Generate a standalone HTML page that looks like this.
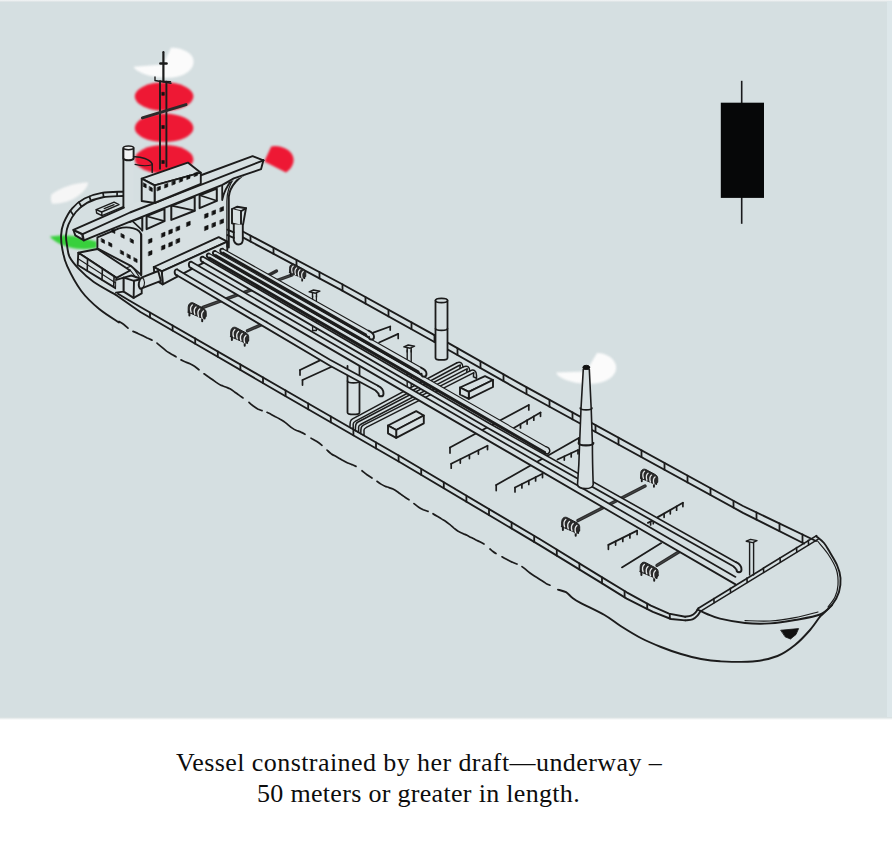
<!DOCTYPE html>
<html><head><meta charset="utf-8">
<title>Vessel constrained by her draft</title>
<style>
html,body{margin:0;padding:0;background:#fff;}
body{width:893px;height:853px;position:relative;overflow:hidden;font-family:"Liberation Serif",serif;}
#bg{position:absolute;left:0;top:0;width:893px;height:720px;background:#fff;}
#bg i{position:absolute;display:block;}
.l{position:absolute;white-space:nowrap;font-size:26px;line-height:30px;color:#0d0d0d;font-family:"Liberation Serif",serif;}
svg{position:absolute;left:0;top:0;}
</style></head><body>
<div id="bg">
<i style="left:0;top:1px;width:891.5px;height:717px;background:#d5dfe1;"></i>
<i style="left:0;top:0;width:891.5px;height:2px;background:linear-gradient(#f4f6f7,#d9e0e2);"></i>
<i style="left:887px;top:1px;width:4.5px;height:717px;background:#dde7ea;"></i>
<i style="left:0;top:716.5px;width:891.5px;height:3px;background:linear-gradient(#d3dcdd,#ffffff);"></i>
</div>
<svg id="art" width="893" height="853" viewBox="0 0 893 853" stroke-linecap="round" stroke-linejoin="round">
<defs><filter id="soft" color-interpolation-filters="sRGB" x="-10%" y="-10%" width="120%" height="120%"><feGaussianBlur stdDeviation="0.9"/></filter>
<filter id="ink" color-interpolation-filters="sRGB" x="-2%" y="-2%" width="104%" height="104%"><feGaussianBlur stdDeviation="0.5"/></filter></defs>
<g filter="url(#soft)">
<path d="M163.3,64.5 L133.5,66.8 C136,72 150,77.8 167,77.8 C184,77.8 193.6,70 193.6,61.5 C193.6,53 182,47.6 171,47.8 Z" fill="#fbfbfb"/>
<ellipse cx="164.1" cy="96.5" rx="29.3" ry="14.3" fill="#ee1834"/>
<ellipse cx="164.1" cy="127.9" rx="29.3" ry="14.3" fill="#ee1834"/>
<ellipse cx="164.1" cy="159.3" rx="29.3" ry="14.3" fill="#ee1834"/>
<path d="M264.3,161.5 L271.2,146.6 C277,144.6 287,147.5 291.5,153.5 C296,160 293,167.5 286,172.6 Z" fill="#ee1834"/>
<path d="M51.8,203.6 C50.6,200 50.6,197 51.4,194.6 C60,187.5 75,183 87.6,182.3 L88,184 C86.5,189 80,195.5 72,199.7 C65,202.8 57,204 51.8,203.6 Z" fill="#f6f6f6"/>
<path d="M50,236.6 L62.3,235.3 L74.6,236 L96.8,241.4 L96.8,247.8 C92,249.2 85,249.4 80.8,249 C75,248.6 69,247.4 64.8,245.9 C60,244 56.5,242.3 54.9,241 C52.5,239.6 51,238.2 50,236.6 Z" fill="#38d03c"/>
<path d="M586,371.5 L556,372.4 C558,378 572,383.8 590,383.8 C606,383.8 616.2,376.5 616.2,367.5 C616.2,359 606,352.8 597,353 Z" fill="#fbfbfb"/>
</g>
<rect x="740.9" y="80.8" width="1.6" height="143" fill="#1a1a1c" filter="url(#ink)"/>
<rect x="720.8" y="102.7" width="43.2" height="95.2" fill="#060708" filter="url(#ink)"/>
<g filter="url(#ink)">
<path d="M118.0,293.8 L128.0,299.8 L140.0,306.8 L280.0,387.3 L400.0,456.3 L540.0,539.3 L600.5,576.4 L626.7,592.3 L650.9,605.6 L669.0,613.6 L685.2,616.7" fill="none" stroke="#1c1c1c" stroke-width="1.9" />
<path d="M115.3,294.5 L140.4,312.0 L200.0,346.5 L280.0,393.0 L400.0,462.2 L540.0,545.4 L600.5,582.4 L626.7,598.6 L652.9,611.9 L671.0,619.0 L685.2,620.4" fill="none" stroke="#1c1c1c" stroke-width="1.9" />
<path d="M150.0,312.6 L150.0,317.6" fill="none" stroke="#1c1c1c" stroke-width="1.8" />
<path d="M172.6,325.5 L172.6,330.6" fill="none" stroke="#1c1c1c" stroke-width="1.8" />
<path d="M195.2,338.5 L195.2,343.7" fill="none" stroke="#1c1c1c" stroke-width="1.8" />
<path d="M217.8,351.5 L217.8,356.8" fill="none" stroke="#1c1c1c" stroke-width="1.8" />
<path d="M240.4,364.5 L240.4,370.0" fill="none" stroke="#1c1c1c" stroke-width="1.8" />
<path d="M263.0,377.5 L263.0,383.1" fill="none" stroke="#1c1c1c" stroke-width="1.8" />
<path d="M285.6,390.5 L285.6,396.2" fill="none" stroke="#1c1c1c" stroke-width="1.8" />
<path d="M308.2,403.5 L308.2,409.3" fill="none" stroke="#1c1c1c" stroke-width="1.8" />
<path d="M330.8,416.5 L330.8,422.3" fill="none" stroke="#1c1c1c" stroke-width="1.8" />
<path d="M353.4,429.5 L353.4,435.3" fill="none" stroke="#1c1c1c" stroke-width="1.8" />
<path d="M376.0,442.5 L376.0,448.4" fill="none" stroke="#1c1c1c" stroke-width="1.8" />
<path d="M398.6,455.5 L398.6,461.4" fill="none" stroke="#1c1c1c" stroke-width="1.8" />
<path d="M421.2,468.9 L421.2,474.8" fill="none" stroke="#1c1c1c" stroke-width="1.8" />
<path d="M443.8,482.3 L443.8,488.2" fill="none" stroke="#1c1c1c" stroke-width="1.8" />
<path d="M466.4,495.7 L466.4,501.7" fill="none" stroke="#1c1c1c" stroke-width="1.8" />
<path d="M489.0,509.1 L489.0,515.1" fill="none" stroke="#1c1c1c" stroke-width="1.8" />
<path d="M511.6,522.5 L511.6,528.5" fill="none" stroke="#1c1c1c" stroke-width="1.8" />
<path d="M534.2,535.9 L534.2,542.0" fill="none" stroke="#1c1c1c" stroke-width="1.8" />
<path d="M556.8,549.6 L556.8,555.7" fill="none" stroke="#1c1c1c" stroke-width="1.8" />
<path d="M579.4,563.5 L579.4,569.5" fill="none" stroke="#1c1c1c" stroke-width="1.8" />
<path d="M602.0,577.3 L602.0,583.3" fill="none" stroke="#1c1c1c" stroke-width="1.8" />
<path d="M624.6,591.0 L624.6,597.3" fill="none" stroke="#1c1c1c" stroke-width="1.8" />
<path d="M647.2,603.6 L647.2,609.0" fill="none" stroke="#1c1c1c" stroke-width="1.8" />
<path d="M669.8,613.8 L669.8,618.5" fill="none" stroke="#1c1c1c" stroke-width="1.8" />
<path d="M242.8,231.5 L340.0,283.0 L430.0,332.7 L520.0,383.7 L743.0,506.0 L816.0,541.0" fill="none" stroke="#1c1c1c" stroke-width="1.9" />
<path d="M242.8,237.4 L340.0,289.3 L430.0,339.5 L520.0,390.5 L743.0,512.8 L804.0,543.5" fill="none" stroke="#1c1c1c" stroke-width="1.9" />
<path d="M250.5,235.6 L250.5,241.5" fill="none" stroke="#1c1c1c" stroke-width="1.8" />
<path d="M273.5,247.8 L273.5,253.8" fill="none" stroke="#1c1c1c" stroke-width="1.8" />
<path d="M296.5,260.0 L296.5,266.1" fill="none" stroke="#1c1c1c" stroke-width="1.8" />
<path d="M319.5,272.1 L319.5,278.4" fill="none" stroke="#1c1c1c" stroke-width="1.8" />
<path d="M342.5,284.4 L342.5,290.7" fill="none" stroke="#1c1c1c" stroke-width="1.8" />
<path d="M365.5,297.1 L365.5,303.5" fill="none" stroke="#1c1c1c" stroke-width="1.8" />
<path d="M388.5,309.8 L388.5,316.4" fill="none" stroke="#1c1c1c" stroke-width="1.8" />
<path d="M411.5,322.5 L411.5,329.2" fill="none" stroke="#1c1c1c" stroke-width="1.8" />
<path d="M434.5,335.2 L434.5,342.1" fill="none" stroke="#1c1c1c" stroke-width="1.8" />
<path d="M457.5,348.3 L457.5,355.1" fill="none" stroke="#1c1c1c" stroke-width="1.8" />
<path d="M480.5,361.3 L480.5,368.1" fill="none" stroke="#1c1c1c" stroke-width="1.8" />
<path d="M503.5,374.3 L503.5,381.1" fill="none" stroke="#1c1c1c" stroke-width="1.8" />
<path d="M526.5,387.3 L526.5,394.1" fill="none" stroke="#1c1c1c" stroke-width="1.8" />
<path d="M549.5,399.9 L549.5,406.7" fill="none" stroke="#1c1c1c" stroke-width="1.8" />
<path d="M572.5,412.5 L572.5,419.3" fill="none" stroke="#1c1c1c" stroke-width="1.8" />
<path d="M595.5,425.1 L595.5,431.9" fill="none" stroke="#1c1c1c" stroke-width="1.8" />
<path d="M618.5,437.7 L618.5,444.5" fill="none" stroke="#1c1c1c" stroke-width="1.8" />
<path d="M641.5,450.3 L641.5,457.1" fill="none" stroke="#1c1c1c" stroke-width="1.8" />
<path d="M664.5,462.9 L664.5,469.7" fill="none" stroke="#1c1c1c" stroke-width="1.8" />
<path d="M687.5,475.6 L687.5,482.4" fill="none" stroke="#1c1c1c" stroke-width="1.8" />
<path d="M710.5,488.2 L710.5,495.0" fill="none" stroke="#1c1c1c" stroke-width="1.8" />
<path d="M733.5,500.8 L733.5,507.6" fill="none" stroke="#1c1c1c" stroke-width="1.8" />
<path d="M756.5,512.5 L756.5,519.6" fill="none" stroke="#1c1c1c" stroke-width="1.8" />
<path d="M779.5,523.5 L779.5,531.2" fill="none" stroke="#1c1c1c" stroke-width="1.8" />
<path d="M802.5,534.5 L802.5,542.7" fill="none" stroke="#1c1c1c" stroke-width="1.8" />
<path d="M122.7,191.7 C119.2,191.9 108.1,191.8 101.7,192.9 C95.3,194.0 89.4,195.9 84.5,198.5 C79.6,201.1 75.7,204.2 72.2,208.3 C68.7,212.4 65.5,218.6 63.6,223.1 C61.8,227.6 61.3,231.1 61.1,235.4 C60.9,239.7 61.3,243.9 62.3,249.0 C63.3,254.1 64.0,259.2 67.2,266.2 C70.4,273.2 76.0,283.9 81.3,291.0 C86.6,298.1 92.9,303.8 99.2,309.0 C105.5,314.2 115.7,320.2 119.0,322.4" fill="none" stroke="#1c1c1c" stroke-width="1.9" />
<path d="M122.7,196.0 C119.4,196.2 109.0,196.1 103.0,197.2 C97.0,198.3 91.5,200.3 87.0,202.8 C82.5,205.3 79.0,208.4 75.9,212.0 C72.8,215.6 70.2,220.4 68.5,224.3 C66.8,228.2 66.2,231.7 66.0,235.4 C65.8,239.1 66.6,242.9 67.2,246.5 C67.8,250.1 67.7,253.3 69.6,257.0 C71.5,260.7 74.6,264.4 78.6,268.6 C82.6,272.8 87.7,277.7 93.8,282.0 C99.9,286.3 111.7,292.4 115.3,294.5" fill="none" stroke="#1c1c1c" stroke-width="1.9" />
<path d="M117.1,191.9 L117.1,196.1" fill="none" stroke="#1c1c1c" stroke-width="1.7" />
<path d="M103.0,192.9 L103.7,197.2" fill="none" stroke="#1c1c1c" stroke-width="1.7" />
<path d="M89.4,196.6 L90.9,200.9" fill="none" stroke="#1c1c1c" stroke-width="1.7" />
<path d="M78.9,202.2 L81.4,206.5" fill="none" stroke="#1c1c1c" stroke-width="1.7" />
<path d="M70.3,210.8 L73.4,215.1" fill="none" stroke="#1c1c1c" stroke-width="1.7" />
<path d="M119.0,321.5 C119.8,322.0 122.0,323.2 123.5,324.3 C125.0,325.4 127.2,327.5 128.0,328.2" fill="none" stroke="#1c1c1c" stroke-width="1.7" />
<path d="M133.0,331.4 C133.8,331.7 136.2,332.7 137.8,333.4 C139.3,334.1 140.9,334.9 142.5,335.6 C144.1,336.4 145.7,337.2 147.2,338.0 C148.8,338.7 151.2,339.8 152.0,340.1" fill="none" stroke="#1c1c1c" stroke-width="1.7" />
<path d="M157.0,343.1 C157.8,343.7 160.2,345.8 161.8,347.1 C163.3,348.4 164.9,349.9 166.5,351.1 C168.1,352.2 169.7,353.1 171.2,354.1 C172.8,355.0 175.2,356.4 176.0,356.8" fill="none" stroke="#1c1c1c" stroke-width="1.7" />
<path d="M181.0,359.9 C181.8,360.2 184.0,361.4 185.5,362.0 C187.0,362.7 188.5,363.0 190.0,363.7 C191.5,364.4 193.0,365.2 194.5,366.2 C196.0,367.2 198.2,369.2 199.0,369.8" fill="none" stroke="#1c1c1c" stroke-width="1.7" />
<path d="M204.0,373.8 C204.7,374.3 206.9,375.7 208.3,376.7 C209.8,377.7 211.2,378.7 212.7,379.8 C214.1,380.8 215.6,382.0 217.0,382.9 C218.4,383.9 219.9,384.7 221.3,385.4 C222.8,386.0 224.2,386.4 225.7,387.0 C227.1,387.6 228.6,388.1 230.0,388.8 C231.4,389.6 232.9,390.7 234.3,391.7 C235.8,392.7 237.2,393.9 238.7,394.9 C240.1,396.0 242.3,397.4 243.0,397.9" fill="none" stroke="#1c1c1c" stroke-width="1.7" />
<path d="M249.0,402.3 C249.7,403.0 251.9,404.9 253.3,406.0 C254.8,407.1 256.2,408.1 257.7,408.9 C259.1,409.6 261.3,410.3 262.0,410.6" fill="none" stroke="#1c1c1c" stroke-width="1.7" />
<path d="M267.0,412.3 C267.7,412.6 269.8,413.7 271.2,414.4 C272.6,415.2 274.0,416.0 275.4,416.8 C276.9,417.5 278.3,418.2 279.7,419.0 C281.1,419.7 282.5,420.5 283.9,421.5 C285.3,422.5 286.7,423.7 288.1,424.8 C289.5,426.0 290.9,427.2 292.3,428.1 C293.7,429.1 295.1,429.8 296.6,430.5 C298.0,431.1 299.4,431.4 300.8,432.1 C302.2,432.7 304.3,433.9 305.0,434.3" fill="none" stroke="#1c1c1c" stroke-width="1.7" />
<path d="M311.0,438.1 C311.9,438.7 314.7,440.1 316.5,441.3 C318.3,442.5 321.1,444.6 322.0,445.3" fill="none" stroke="#1c1c1c" stroke-width="1.7" />
<path d="M327.0,450.1 C327.7,450.7 329.8,452.7 331.1,453.7 C332.5,454.7 333.9,455.4 335.3,456.1 C336.7,456.9 338.0,457.6 339.4,458.4 C340.8,459.2 342.2,460.1 343.6,460.8 C345.0,461.6 346.3,462.4 347.7,463.0 C349.1,463.6 350.5,464.0 351.9,464.6 C353.2,465.2 355.3,466.1 356.0,466.4" fill="none" stroke="#1c1c1c" stroke-width="1.7" />
<path d="M362.0,470.7 C362.8,471.3 365.3,473.5 367.0,474.7 C368.7,475.9 371.2,477.5 372.0,478.0" fill="none" stroke="#1c1c1c" stroke-width="1.7" />
<path d="M377.0,481.3 C377.7,481.8 379.7,483.3 381.0,484.1 C382.3,484.9 383.7,485.6 385.0,486.2 C386.3,486.8 387.7,487.1 389.0,487.6 C390.3,488.1 391.7,488.5 393.0,489.1 C394.3,489.8 395.7,490.6 397.0,491.5 C398.3,492.4 399.7,493.5 401.0,494.4 C402.3,495.4 403.7,496.3 405.0,497.2 C406.3,498.1 408.3,499.4 409.0,499.8" fill="none" stroke="#1c1c1c" stroke-width="1.7" />
<path d="M414.0,503.6 C414.8,504.2 417.1,506.2 418.7,507.2 C420.2,508.2 421.8,509.0 423.3,509.7 C424.9,510.4 427.2,511.1 428.0,511.4" fill="none" stroke="#1c1c1c" stroke-width="1.7" />
<path d="M433.0,513.7 C433.7,514.2 435.8,515.5 437.2,516.3 C438.7,517.2 440.1,518.0 441.5,518.9 C442.9,519.8 444.3,520.5 445.8,521.5 C447.2,522.4 448.6,523.6 450.0,524.7 C451.4,525.9 452.8,527.3 454.2,528.4 C455.7,529.5 457.1,530.6 458.5,531.4 C459.9,532.3 461.3,532.8 462.8,533.4 C464.2,534.1 465.6,534.6 467.0,535.3 C468.4,536.0 469.8,536.8 471.2,537.5 C472.7,538.3 474.1,539.1 475.5,539.8 C476.9,540.5 478.3,541.0 479.8,541.7 C481.2,542.5 483.3,543.7 484.0,544.1" fill="none" stroke="#1c1c1c" stroke-width="1.7" />
<path d="M490.0,549.0 C490.5,549.4 492.0,550.8 493.0,551.5 C494.0,552.3 495.5,553.3 496.0,553.6" fill="none" stroke="#1c1c1c" stroke-width="1.7" />
<path d="M502.0,556.8 C502.8,557.3 505.3,558.7 507.0,559.6 C508.7,560.5 510.3,561.4 512.0,562.1 C513.7,562.9 516.2,563.7 517.0,564.0" fill="none" stroke="#1c1c1c" stroke-width="1.7" />
<path d="M522.0,566.6 C522.7,567.1 524.7,568.6 526.0,569.7 C527.3,570.8 528.7,572.0 530.0,573.0 C531.3,574.0 532.7,574.9 534.0,575.7 C535.3,576.6 536.7,577.4 538.0,578.2 C539.3,579.1 540.7,580.0 542.0,580.8 C543.3,581.7 544.7,582.6 546.0,583.4 C547.3,584.1 549.3,584.9 550.0,585.2" fill="none" stroke="#1c1c1c" stroke-width="1.7" />
<path d="M558.0,589.6 C559.3,590.0 563.7,590.9 566.0,592.2 C568.3,593.5 569.7,595.7 572.0,597.4 C574.3,599.1 574.6,599.7 580.0,602.6 C585.4,605.5 597.7,611.1 604.5,615.0 C611.3,618.9 614.6,622.2 620.6,626.0 C626.6,629.8 634.1,634.5 640.8,638.0 C647.5,641.5 654.3,644.3 661.0,647.0 C667.7,649.7 674.3,652.0 681.0,654.0 C687.7,656.0 694.5,657.8 701.0,659.0 C707.5,660.2 711.4,660.9 720.0,661.3 C728.6,661.7 742.9,662.4 752.5,661.5 C762.1,660.6 770.4,658.8 777.5,656.0 C784.6,653.2 789.6,649.3 795.0,645.0 C800.4,640.7 805.8,634.8 810.0,630.0 C814.2,625.2 818.3,618.8 820.0,616.5" fill="none" stroke="#1c1c1c" stroke-width="1.9" />
<path d="M698.4,608.2 L816.6,535.6" fill="none" stroke="#1c1c1c" stroke-width="1.7" />
<path d="M700.4,611.4 L818.2,539.2" fill="none" stroke="#1c1c1c" stroke-width="1.5" />
<path d="M713.8,598.5 L714.1,602.6" fill="none" stroke="#1c1c1c" stroke-width="1.6" />
<path d="M730.3,588.3 L730.6,592.5" fill="none" stroke="#1c1c1c" stroke-width="1.6" />
<path d="M746.9,578.1 L747.2,582.4" fill="none" stroke="#1c1c1c" stroke-width="1.6" />
<path d="M763.4,568.0 L763.7,572.3" fill="none" stroke="#1c1c1c" stroke-width="1.6" />
<path d="M780.0,557.8 L780.3,562.2" fill="none" stroke="#1c1c1c" stroke-width="1.6" />
<path d="M796.5,547.6 L796.8,552.1" fill="none" stroke="#1c1c1c" stroke-width="1.6" />
<path d="M808.3,540.4 L808.6,544.9" fill="none" stroke="#1c1c1c" stroke-width="1.6" />
<path d="M816.2,536.2 C817.5,537.3 821.7,540.3 824.0,543.0 C826.3,545.7 827.8,548.8 830.0,552.5 C832.2,556.2 835.2,560.8 837.0,565.0 C838.8,569.2 840.2,573.5 840.5,578.0 C840.8,582.5 840.4,587.5 839.0,592.0 C837.6,596.5 835.2,600.9 832.0,605.0 C828.8,609.1 822.0,614.6 820.0,616.5" fill="none" stroke="#1c1c1c" stroke-width="1.9" />
<path d="M817.5,541.0 C819.2,543.2 824.8,549.2 828.0,554.0 C831.2,558.8 834.8,564.8 836.5,570.0 C838.2,575.2 838.2,580.5 838.0,585.0 C837.8,589.5 836.7,593.3 835.0,597.0 C833.3,600.7 829.2,605.3 828.0,607.0" fill="none" stroke="#1c1c1c" stroke-width="1.2" />
<path d="M697.5,609.5 C699.1,610.2 703.2,612.5 707.0,614.0 C710.8,615.5 713.7,617.2 720.0,618.7 C726.3,620.2 736.7,622.2 745.0,623.0 C753.3,623.8 761.7,623.9 770.0,623.4 C778.3,622.9 786.7,621.5 795.0,620.0 C803.3,618.5 813.8,617.0 820.0,614.5 C826.2,612.0 830.0,606.6 832.0,605.0" fill="none" stroke="#1c1c1c" stroke-width="1.9" />
<path d="M745.0,620.6 C749.2,620.7 761.7,621.5 770.0,621.0 C778.3,620.5 787.0,619.1 795.0,617.6 C803.0,616.1 814.2,612.9 818.0,612.0" fill="none" stroke="#1c1c1c" stroke-width="1.2" />
<path d="M685.2,616.7 C686.2,616.5 689.3,616.3 691.0,615.6 C692.7,614.9 694.2,613.8 695.4,612.6 C696.6,611.4 697.9,608.9 698.4,608.2" fill="none" stroke="#1c1c1c" stroke-width="1.9" />
<path d="M685.2,620.4 C686.4,620.2 690.5,620.1 692.5,619.3 C694.5,618.5 696.2,617.0 697.5,615.6 C698.8,614.2 699.9,611.9 700.4,611.2" fill="none" stroke="#1c1c1c" stroke-width="1.9" />
<path d="M781,630.2 L798.6,628.6 L796,634.5 L790.5,639 L785.5,637 Z" fill="#111" stroke="#111" stroke-width="0.8"/>
<path d="M203.0,307.4 L292.0,275.0" fill="none" stroke="#2e2e2e" stroke-width="3.4" />
<path d="M203.0,307.4 L292.0,275.0" fill="none" stroke="#5d6162" stroke-width="0.5" />
<path d="M247.5,330.8 L266.0,322.6" fill="none" stroke="#2e2e2e" stroke-width="3.4" />
<path d="M247.5,330.8 L266.0,322.6" fill="none" stroke="#5d6162" stroke-width="0.5" />
<path d="M268.5,275.2 L276.5,271.0" fill="none" stroke="#2e2e2e" stroke-width="3.4" />
<path d="M578.0,520.6 L645.0,486.0" fill="none" stroke="#2e2e2e" stroke-width="3.4" />
<path d="M578.0,520.6 L645.0,486.0" fill="none" stroke="#5d6162" stroke-width="0.5" />
<path d="M657.0,565.4 L682.0,550.0" fill="none" stroke="#2e2e2e" stroke-width="3.4" />
<path d="M657.0,565.4 L682.0,550.0" fill="none" stroke="#5d6162" stroke-width="0.5" />
<path d="M347.5,366.0 L347.5,412.5 C347.5,415.1 359.5,415.1 359.5,412.5 L359.5,366.0" fill="#d7e0e2" stroke="#1c1c1c" stroke-width="1.8"/>
<path d="M347.5,381.0 C347.5,383.6 359.5,383.6 359.5,381.0" fill="none" stroke="#1c1c1c" stroke-width="1.7"/>
<path d="M407.2,350.0 L407.2,386.0" fill="none" stroke="#1c1c1c" stroke-width="1.4" />
<path d="M411.2,350.0 L411.2,386.5" fill="none" stroke="#1c1c1c" stroke-width="1.4" />
<path d="M312.6,296.0 L312.6,330.5 L316.4,330.5 L316.4,296.0" fill="none" stroke="#1c1c1c" stroke-width="1.3" />
<path d="M300.0,370.0 L322.0,359.4" fill="none" stroke="#1c1c1c" stroke-width="1.8" />
<path d="M300.0,370.0 L300.0,375.1" fill="none" stroke="#1c1c1c" stroke-width="1.7" />
<path d="M302.5,380.0 L336.0,364.8" fill="none" stroke="#1c1c1c" stroke-width="1.8" />
<path d="M302.5,380.0 L302.5,385.1" fill="none" stroke="#1c1c1c" stroke-width="1.7" />
<path d="M373.3,332.7 L390.2,326.5" fill="none" stroke="#1c1c1c" stroke-width="1.8" />
<path d="M390.2,326.5 L390.2,330.1" fill="none" stroke="#1c1c1c" stroke-width="1.7" />
<path d="M379.1,342.5 L398.2,333.9" fill="none" stroke="#1c1c1c" stroke-width="1.8" />
<path d="M398.2,333.9 L398.2,338.5" fill="none" stroke="#1c1c1c" stroke-width="1.7" />
<path d="M450.0,447.5 L528.8,405.0" fill="none" stroke="#1c1c1c" stroke-width="1.8" />
<path d="M528.8,405.0 L528.8,410.0" fill="none" stroke="#1c1c1c" stroke-width="1.7" />
<path d="M450.0,447.5 L450.0,453.1" fill="none" stroke="#1c1c1c" stroke-width="1.7" />
<path d="M451.2,463.8 L487.5,445.8" fill="none" stroke="#1c1c1c" stroke-width="1.8" />
<path d="M460.3,459.3 L460.3,463.1" fill="none" stroke="#1c1c1c" stroke-width="1.7" />
<path d="M469.4,454.8 L469.4,458.6" fill="none" stroke="#1c1c1c" stroke-width="1.7" />
<path d="M478.4,450.3 L478.4,454.1" fill="none" stroke="#1c1c1c" stroke-width="1.7" />
<path d="M487.5,445.8 L487.5,449.6" fill="none" stroke="#1c1c1c" stroke-width="1.7" />
<path d="M451.2,463.8 L451.2,468.2" fill="none" stroke="#1c1c1c" stroke-width="1.7" />
<path d="M513.8,428.0 L540.5,412.5" fill="none" stroke="#1c1c1c" stroke-width="1.8" />
<path d="M520.5,424.1 L520.5,427.9" fill="none" stroke="#1c1c1c" stroke-width="1.7" />
<path d="M527.1,420.2 L527.1,424.1" fill="none" stroke="#1c1c1c" stroke-width="1.7" />
<path d="M533.8,416.4 L533.8,420.2" fill="none" stroke="#1c1c1c" stroke-width="1.7" />
<path d="M540.5,412.5 L540.5,416.3" fill="none" stroke="#1c1c1c" stroke-width="1.7" />
<path d="M496.2,485.0 L578.8,438.0" fill="none" stroke="#1c1c1c" stroke-width="1.8" />
<path d="M578.8,438.0 L578.8,443.0" fill="none" stroke="#1c1c1c" stroke-width="1.7" />
<path d="M496.2,485.0 L496.2,490.6" fill="none" stroke="#1c1c1c" stroke-width="1.7" />
<path d="M515.0,487.5 L542.5,473.8" fill="none" stroke="#1c1c1c" stroke-width="1.8" />
<path d="M521.9,484.1 L521.9,487.9" fill="none" stroke="#1c1c1c" stroke-width="1.7" />
<path d="M528.8,480.6 L528.8,484.4" fill="none" stroke="#1c1c1c" stroke-width="1.7" />
<path d="M535.6,477.2 L535.6,481.0" fill="none" stroke="#1c1c1c" stroke-width="1.7" />
<path d="M542.5,473.8 L542.5,477.6" fill="none" stroke="#1c1c1c" stroke-width="1.7" />
<path d="M515.0,487.5 L515.0,491.9" fill="none" stroke="#1c1c1c" stroke-width="1.7" />
<path d="M557.5,459.5 L578.0,450.0" fill="none" stroke="#1c1c1c" stroke-width="1.8" />
<path d="M564.3,456.3 L564.3,460.1" fill="none" stroke="#1c1c1c" stroke-width="1.7" />
<path d="M571.2,453.2 L571.2,457.0" fill="none" stroke="#1c1c1c" stroke-width="1.7" />
<path d="M578.0,450.0 L578.0,453.8" fill="none" stroke="#1c1c1c" stroke-width="1.7" />
<path d="M657.8,517.1 L682.9,502.8" fill="none" stroke="#1c1c1c" stroke-width="1.8" />
<path d="M664.1,513.5 L664.1,517.3" fill="none" stroke="#1c1c1c" stroke-width="1.7" />
<path d="M670.3,510.0 L670.3,513.8" fill="none" stroke="#1c1c1c" stroke-width="1.7" />
<path d="M676.6,506.4 L676.6,510.2" fill="none" stroke="#1c1c1c" stroke-width="1.7" />
<path d="M682.9,502.8 L682.9,506.6" fill="none" stroke="#1c1c1c" stroke-width="1.7" />
<path d="M608.4,544.9 L637.1,530.6" fill="none" stroke="#1c1c1c" stroke-width="1.8" />
<path d="M615.6,541.3 L615.6,545.1" fill="none" stroke="#1c1c1c" stroke-width="1.7" />
<path d="M622.8,537.8 L622.8,541.5" fill="none" stroke="#1c1c1c" stroke-width="1.7" />
<path d="M629.9,534.2 L629.9,538.0" fill="none" stroke="#1c1c1c" stroke-width="1.7" />
<path d="M637.1,530.6 L637.1,534.4" fill="none" stroke="#1c1c1c" stroke-width="1.7" />
<path d="M608.4,544.9 L608.4,549.3" fill="none" stroke="#1c1c1c" stroke-width="1.7" />
<path d="M621.9,567.4 L661.3,543.1" fill="none" stroke="#1c1c1c" stroke-width="1.8" />
<path d="M647.9,522.9 L653.3,520.2" fill="none" stroke="#1c1c1c" stroke-width="1.8" />
<path d="M650.6,521.5 L650.6,525.0" fill="none" stroke="#1c1c1c" stroke-width="1.7" />
<path d="M653.3,520.2 L653.3,523.7" fill="none" stroke="#1c1c1c" stroke-width="1.7" />
<path d="M456.6,363.0 L352.6,418.9 C350.2,420.3 350.0,421.9 350.0,427.4 L353.2,428.9 L353.2,423.9 C353.2,422.3 355.0,421.5 356.0,420.9 L460.0,365.0" fill="#d7e0e2" stroke="#1c1c1c" stroke-width="1.5"/>
<path d="M456.6,363.0 C460.1,361.2 463.0,362.8 463.0,367.5 L463.0,370.5 L460.0,369.2 L460.0,367.4 C460.0,365.6 461.0,364.6 460.0,365.0" fill="#d7e0e2" stroke="#1c1c1c" stroke-width="1.5"/>
<path d="M463.4,366.9 L358.0,422.0 C355.6,423.4 355.4,425.0 355.4,430.5 L358.6,432.0 L358.6,427.0 C358.6,425.4 360.4,424.6 361.4,424.0 L466.8,368.9" fill="#d7e0e2" stroke="#1c1c1c" stroke-width="1.5"/>
<path d="M463.4,366.9 C466.9,365.1 469.8,366.7 469.8,371.4 L469.8,374.4 L466.8,373.1 L466.8,371.3 C466.8,369.5 467.8,368.5 466.8,368.9" fill="#d7e0e2" stroke="#1c1c1c" stroke-width="1.5"/>
<path d="M470.1,370.8 L363.4,425.1 C361.0,426.5 360.8,428.1 360.8,433.6 L364.0,435.1 L364.0,430.1 C364.0,428.5 365.8,427.7 366.8,427.1 L473.5,372.8" fill="#d7e0e2" stroke="#1c1c1c" stroke-width="1.5"/>
<path d="M470.1,370.8 C473.6,368.9 476.5,370.6 476.5,375.2 L476.5,378.2 L473.5,376.9 L473.5,375.1 C473.5,373.4 474.5,372.4 473.5,372.8" fill="#d7e0e2" stroke="#1c1c1c" stroke-width="1.5"/>
<path d="M141.2,234.2 L141.2,275.5 L153.8,267.0 L218.7,237.1 L227.9,242.1 L227.9,188.5 L222.4,184.8 Z" fill="#d7e0e2" stroke="none"/>
<path d="M153.8,267.0 L218.7,237.1 L227.3,241.7 L161.8,271.4 Z" fill="#d7e0e2" stroke="#1c1c1c" stroke-width="1.9" />
<path d="M161.8,271.4 L227.3,241.7 L227.3,250.2 L162.7,284.4 Z" fill="#d7e0e2" stroke="#1c1c1c" stroke-width="1.9" />
<path d="M153.8,267.0 L161.8,271.4 L162.7,284.4 L154.7,279.6 Z" fill="#d7e0e2" stroke="#1c1c1c" stroke-width="1.9" />
<path d="M177.2,269.4 L330.0,359.7 L378.0,385.8 L378.0,391.8 L330.0,365.7 L177.2,275.4 Z" fill="#d7e0e2" stroke="none"/>
<path d="M177.2,269.4 L330.0,359.7 L378.0,385.8" fill="none" stroke="#1c1c1c" stroke-width="1.7" />
<path d="M177.2,275.4 L330.0,365.7 L378.0,391.8" fill="none" stroke="#1c1c1c" stroke-width="1.8" />
<path d="M177.2,269.4 C173.8,268.8 173.8,274.8 177.2,275.4" fill="#d7e0e2" stroke="#1c1c1c" stroke-width="1.9"/>
<path d="M378.0,385.8 C382.5,387.8 383.5,389.8 383.5,393.4 C383.5,397.3 378.5,397.3 378.5,393.4 C378.5,393.8 377.5,392.4 376.0,390.9" fill="#d7e0e2" stroke="#1c1c1c" stroke-width="1.9"/>
<path d="M191.4,261.8 L490.0,434.8 L620.0,510.0 L735.5,576.9 L735.5,584.4 L620.0,517.2 L490.0,441.6 L191.4,268.2 Z" fill="#d7e0e2" stroke="none"/>
<path d="M191.4,261.8 L490.0,434.8 L620.0,510.0 L735.5,576.9" fill="none" stroke="#1c1c1c" stroke-width="1.7" />
<path d="M191.4,268.2 L490.0,441.6 L620.0,517.2 L735.5,584.4" fill="none" stroke="#1c1c1c" stroke-width="1.8" />
<path d="M191.4,261.8 C188.0,261.1 188.0,267.6 191.4,268.2" fill="#d7e0e2" stroke="#1c1c1c" stroke-width="1.9"/>
<path d="M203.1,256.8 L490.0,423.8 L736.0,562.2 L736.0,567.8 L490.0,429.2 L203.1,262.2 Z" fill="#d7e0e2" stroke="none"/>
<path d="M203.1,256.8 L490.0,423.8 L736.0,562.2" fill="none" stroke="#1c1c1c" stroke-width="1.6" />
<path d="M203.1,262.2 L490.0,429.2 L736.0,567.8" fill="none" stroke="#1c1c1c" stroke-width="1.8" />
<path d="M203.1,256.8 C199.7,256.1 199.7,261.6 203.1,262.2" fill="#d7e0e2" stroke="#1c1c1c" stroke-width="1.9"/>
<path d="M736.0,562.2 C740.5,564.2 741.5,566.2 741.5,569.5 C741.5,573.2 736.5,573.2 736.5,569.5 C736.5,569.8 735.5,568.4 734.0,566.9" fill="#d7e0e2" stroke="#1c1c1c" stroke-width="1.9"/>
<path d="M209.3,253.6 L546.0,446.7 L546.0,453.3 L209.3,258.0 Z" fill="#d7e0e2" stroke="none"/>
<path d="M209.3,253.6 L546.0,446.7" fill="none" stroke="#1c1c1c" stroke-width="1.1" />
<path d="M209.3,258.0 L546.0,453.3" fill="none" stroke="#1c1c1c" stroke-width="3.0" />
<path d="M209.3,253.6 C205.9,253.0 205.9,257.4 209.3,258.0" fill="#d7e0e2" stroke="#1c1c1c" stroke-width="1.9"/>
<path d="M215.4,251.1 L421.0,367.6 L421.0,373.6 L215.4,255.5 Z" fill="#d7e0e2" stroke="none"/>
<path d="M215.4,251.1 L421.0,367.6" fill="none" stroke="#1c1c1c" stroke-width="1.1" />
<path d="M215.4,255.5 L421.0,373.6" fill="none" stroke="#1c1c1c" stroke-width="3.0" />
<path d="M215.4,251.1 C212.0,250.5 212.0,254.9 215.4,255.5" fill="#d7e0e2" stroke="#1c1c1c" stroke-width="1.9"/>
<path d="M421.0,367.6 C425.5,369.6 426.5,371.6 426.5,373.7 C426.5,377.6 421.5,377.6 421.5,373.7 C421.5,375.6 420.5,374.2 419.0,372.7" fill="#d7e0e2" stroke="#1c1c1c" stroke-width="1.9"/>
<path d="M222.8,248.7 L368.5,330.7 L368.5,336.5 L222.8,253.1 Z" fill="#d7e0e2" stroke="none"/>
<path d="M222.8,248.7 L368.5,330.7" fill="none" stroke="#1c1c1c" stroke-width="1.2" />
<path d="M222.8,253.1 L368.5,336.5" fill="none" stroke="#1c1c1c" stroke-width="3.0" />
<path d="M222.8,248.7 C219.4,248.1 219.4,252.5 222.8,253.1" fill="#d7e0e2" stroke="#1c1c1c" stroke-width="1.9"/>
<path d="M368.5,330.7 C373.0,332.7 374.0,334.7 374.0,336.7 C374.0,340.5 369.0,340.5 369.0,336.7 C369.0,338.5 368.0,337.1 366.5,335.6" fill="#d7e0e2" stroke="#1c1c1c" stroke-width="1.9"/>
<path d="M546,446.7 C550.5,448 551,452 547.5,454.2 L546,453.4" fill="#d7e0e2" stroke="#1c1c1c" stroke-width="1.4"/>
<g transform="translate(197.0,311.0) scale(1.0)"><path d="M-7.6,-1 L-7.6,4.4 M5.2,4.0 L5.2,10.2 M7.6,3 L7.6,7.4" stroke="#1c1c1c" stroke-width="2.0" fill="none"/><path d="M-8.8,1.2 L-8.8,-3.6 C-8.6,-8.0 -5.5,-9.0 -3.2,-7.8 L6.6,-2.6 C9.0,-1.2 9.4,0.6 9.2,3 L9.2,5.6 L5.6,7.4 L-8.8,1.2 Z" fill="#2a2a2a" stroke="#1c1c1c" stroke-width="1.0"/><path d="M-5.9,1.4 C-6.7,-1.2 -6.5,-4.6 -4.7,-6.0" stroke="#e4e7e8" stroke-width="1.35" fill="none"/><path d="M-2.2,3.4 C-3.0,0.8 -2.8,-2.6 -1.0,-4.0" stroke="#e4e7e8" stroke-width="1.35" fill="none"/><path d="M1.5,5.4 C0.7,2.8 0.9,-0.6 2.7,-2.0" stroke="#e4e7e8" stroke-width="1.35" fill="none"/><path d="M5.2,7.4 C4.4,4.8 4.6,1.4 6.4,0.0" stroke="#e4e7e8" stroke-width="1.35" fill="none"/></g>
<g transform="translate(239.5,335.5) scale(1.0)"><path d="M-7.6,-1 L-7.6,4.4 M5.2,4.0 L5.2,10.2 M7.6,3 L7.6,7.4" stroke="#1c1c1c" stroke-width="2.0" fill="none"/><path d="M-8.8,1.2 L-8.8,-3.6 C-8.6,-8.0 -5.5,-9.0 -3.2,-7.8 L6.6,-2.6 C9.0,-1.2 9.4,0.6 9.2,3 L9.2,5.6 L5.6,7.4 L-8.8,1.2 Z" fill="#2a2a2a" stroke="#1c1c1c" stroke-width="1.0"/><path d="M-5.9,1.4 C-6.7,-1.2 -6.5,-4.6 -4.7,-6.0" stroke="#e4e7e8" stroke-width="1.35" fill="none"/><path d="M-2.2,3.4 C-3.0,0.8 -2.8,-2.6 -1.0,-4.0" stroke="#e4e7e8" stroke-width="1.35" fill="none"/><path d="M1.5,5.4 C0.7,2.8 0.9,-0.6 2.7,-2.0" stroke="#e4e7e8" stroke-width="1.35" fill="none"/><path d="M5.2,7.4 C4.4,4.8 4.6,1.4 6.4,0.0" stroke="#e4e7e8" stroke-width="1.35" fill="none"/></g>
<g transform="translate(297.5,271.5) scale(0.9)"><path d="M-7.6,-1 L-7.6,4.4 M5.2,4.0 L5.2,10.2 M7.6,3 L7.6,7.4" stroke="#1c1c1c" stroke-width="2.0" fill="none"/><path d="M-8.8,1.2 L-8.8,-3.6 C-8.6,-8.0 -5.5,-9.0 -3.2,-7.8 L6.6,-2.6 C9.0,-1.2 9.4,0.6 9.2,3 L9.2,5.6 L5.6,7.4 L-8.8,1.2 Z" fill="#2a2a2a" stroke="#1c1c1c" stroke-width="1.0"/><path d="M-5.9,1.4 C-6.7,-1.2 -6.5,-4.6 -4.7,-6.0" stroke="#e4e7e8" stroke-width="1.35" fill="none"/><path d="M-2.2,3.4 C-3.0,0.8 -2.8,-2.6 -1.0,-4.0" stroke="#e4e7e8" stroke-width="1.35" fill="none"/><path d="M1.5,5.4 C0.7,2.8 0.9,-0.6 2.7,-2.0" stroke="#e4e7e8" stroke-width="1.35" fill="none"/><path d="M5.2,7.4 C4.4,4.8 4.6,1.4 6.4,0.0" stroke="#e4e7e8" stroke-width="1.35" fill="none"/></g>
<g transform="translate(570.5,525.5) scale(1.0)"><path d="M-7.6,-1 L-7.6,4.4 M5.2,4.0 L5.2,10.2 M7.6,3 L7.6,7.4" stroke="#1c1c1c" stroke-width="2.0" fill="none"/><path d="M-8.8,1.2 L-8.8,-3.6 C-8.6,-8.0 -5.5,-9.0 -3.2,-7.8 L6.6,-2.6 C9.0,-1.2 9.4,0.6 9.2,3 L9.2,5.6 L5.6,7.4 L-8.8,1.2 Z" fill="#2a2a2a" stroke="#1c1c1c" stroke-width="1.0"/><path d="M-5.9,1.4 C-6.7,-1.2 -6.5,-4.6 -4.7,-6.0" stroke="#e4e7e8" stroke-width="1.35" fill="none"/><path d="M-2.2,3.4 C-3.0,0.8 -2.8,-2.6 -1.0,-4.0" stroke="#e4e7e8" stroke-width="1.35" fill="none"/><path d="M1.5,5.4 C0.7,2.8 0.9,-0.6 2.7,-2.0" stroke="#e4e7e8" stroke-width="1.35" fill="none"/><path d="M5.2,7.4 C4.4,4.8 4.6,1.4 6.4,0.0" stroke="#e4e7e8" stroke-width="1.35" fill="none"/></g>
<g transform="translate(649.0,477.0) scale(0.95)"><path d="M-7.6,-1 L-7.6,4.4 M5.2,4.0 L5.2,10.2 M7.6,3 L7.6,7.4" stroke="#1c1c1c" stroke-width="2.0" fill="none"/><path d="M-8.8,1.2 L-8.8,-3.6 C-8.6,-8.0 -5.5,-9.0 -3.2,-7.8 L6.6,-2.6 C9.0,-1.2 9.4,0.6 9.2,3 L9.2,5.6 L5.6,7.4 L-8.8,1.2 Z" fill="#2a2a2a" stroke="#1c1c1c" stroke-width="1.0"/><path d="M-5.9,1.4 C-6.7,-1.2 -6.5,-4.6 -4.7,-6.0" stroke="#e4e7e8" stroke-width="1.35" fill="none"/><path d="M-2.2,3.4 C-3.0,0.8 -2.8,-2.6 -1.0,-4.0" stroke="#e4e7e8" stroke-width="1.35" fill="none"/><path d="M1.5,5.4 C0.7,2.8 0.9,-0.6 2.7,-2.0" stroke="#e4e7e8" stroke-width="1.35" fill="none"/><path d="M5.2,7.4 C4.4,4.8 4.6,1.4 6.4,0.0" stroke="#e4e7e8" stroke-width="1.35" fill="none"/></g>
<g transform="translate(649.0,570.5) scale(1.0)"><path d="M-7.6,-1 L-7.6,4.4 M5.2,4.0 L5.2,10.2 M7.6,3 L7.6,7.4" stroke="#1c1c1c" stroke-width="2.0" fill="none"/><path d="M-8.8,1.2 L-8.8,-3.6 C-8.6,-8.0 -5.5,-9.0 -3.2,-7.8 L6.6,-2.6 C9.0,-1.2 9.4,0.6 9.2,3 L9.2,5.6 L5.6,7.4 L-8.8,1.2 Z" fill="#2a2a2a" stroke="#1c1c1c" stroke-width="1.0"/><path d="M-5.9,1.4 C-6.7,-1.2 -6.5,-4.6 -4.7,-6.0" stroke="#e4e7e8" stroke-width="1.35" fill="none"/><path d="M-2.2,3.4 C-3.0,0.8 -2.8,-2.6 -1.0,-4.0" stroke="#e4e7e8" stroke-width="1.35" fill="none"/><path d="M1.5,5.4 C0.7,2.8 0.9,-0.6 2.7,-2.0" stroke="#e4e7e8" stroke-width="1.35" fill="none"/><path d="M5.2,7.4 C4.4,4.8 4.6,1.4 6.4,0.0" stroke="#e4e7e8" stroke-width="1.35" fill="none"/></g>
<path d="M460.0,387.5 L485.0,376.2 L493.0,380.0 L468.8,391.8 Z" fill="#d7e0e2" stroke="#1c1c1c" stroke-width="1.9" />
<path d="M468.8,391.8 L493.0,380.0 L493.0,387.0 L468.8,398.8 Z" fill="#d7e0e2" stroke="#1c1c1c" stroke-width="1.9" />
<path d="M460.0,387.5 L468.8,391.8 L468.8,398.8 L460.0,394.5 Z" fill="#d7e0e2" stroke="#1c1c1c" stroke-width="1.9" />
<path d="M388.0,425.5 L416.2,411.2 L423.8,415.5 L396.2,430.0 Z" fill="#d7e0e2" stroke="#1c1c1c" stroke-width="1.9" />
<path d="M396.2,430.0 L423.8,415.5 L423.8,423.3 L396.2,437.8 Z" fill="#d7e0e2" stroke="#1c1c1c" stroke-width="1.9" />
<path d="M388.0,425.5 L396.2,430.0 L396.2,437.8 L388.0,433.3 Z" fill="#d7e0e2" stroke="#1c1c1c" stroke-width="1.9" />
<path d="M435.5,300.5 L435.5,358.0 C435.5,360.6 447.5,360.6 447.5,358.0 L447.5,300.5" fill="#d7e0e2" stroke="#1c1c1c" stroke-width="1.8"/>
<ellipse cx="441.5" cy="300.5" rx="6.0" ry="2.1" fill="#d7e0e2" stroke="#1c1c1c" stroke-width="1.7"/>
<path d="M435.5,328.5 C435.5,331.1 447.5,331.1 447.5,328.5" fill="none" stroke="#1c1c1c" stroke-width="1.7"/>
<path d="M407.2,347.6 L407.2,352.0" fill="none" stroke="#1c1c1c" stroke-width="1.4" />
<path d="M411.2,347.6 L411.2,352.0" fill="none" stroke="#1c1c1c" stroke-width="1.4" />
<path d="M403.8,346.8 L408.2,345.0 L414.6,346.2 L410.2,348.2 Z" fill="#d7e0e2" stroke="#1c1c1c" stroke-width="1.4"/>
<path d="M312.5,292.6 L312.5,297.0" fill="none" stroke="#1c1c1c" stroke-width="1.4" />
<path d="M316.5,292.6 L316.5,297.0" fill="none" stroke="#1c1c1c" stroke-width="1.4" />
<path d="M309.1,291.8 L313.5,290.0 L319.9,291.2 L315.5,293.2 Z" fill="#d7e0e2" stroke="#1c1c1c" stroke-width="1.4"/>
<path d="M749.6,542.0 L749.6,575.0" fill="none" stroke="#1c1c1c" stroke-width="1.4" />
<path d="M753.6,542.0 L753.6,575.0" fill="none" stroke="#1c1c1c" stroke-width="1.4" />
<path d="M746.2,541.2 L750.6,539.4 L757.0,540.6 L752.6,542.6 Z" fill="#d7e0e2" stroke="#1c1c1c" stroke-width="1.4"/>
<path d="M583.3,369 L581.0,408.7 L579.6,443.7 C579.2,460 578.2,476 577.5,484.5 C578.5,490 592.5,490 593.2,484.5 C592.7,470 592.4,455 592.4,443.7 L591.2,408.7 L589.3,369 Z" fill="#d7e0e2" stroke="#1c1c1c" stroke-width="1.6"/>
<ellipse cx="586.3" cy="367.3" rx="3.4" ry="2.0" fill="#111" stroke="#111" stroke-width="1"/>
<path d="M580.2,408 C580.2,410.6 592,410.6 592,408" fill="none" stroke="#1c1c1c" stroke-width="1.7"/>
<path d="M578.6,443 C578.6,446.2 593.4,446.2 593.4,443" fill="none" stroke="#1c1c1c" stroke-width="2.1"/>
<path d="M96.2,209.6 L114.1,202.2 L119.0,204.6 L101.7,212.0 Z" fill="none" stroke="#1c1c1c" stroke-width="1.4" />
<path d="M96.2,209.6 L96.6,213.0 L102.0,215.7 L101.7,212.0" fill="none" stroke="#1c1c1c" stroke-width="1.4" />
<path d="M102.0,215.7 L122.7,206.9" fill="none" stroke="#1c1c1c" stroke-width="1.4" />
<path d="M104.2,208.6 L114.1,204.6" fill="none" stroke="#1c1c1c" stroke-width="1.2" />
<path d="M78.3,252.7 L97.4,249.0 L130.1,270.5 L116.5,277.9 Z" fill="#d7e0e2" stroke="#1c1c1c" stroke-width="1.9" />
<path d="M78.3,252.7 L116.5,277.9 L115.9,288.4 L77.7,265.0 Z" fill="#d7e0e2" stroke="#1c1c1c" stroke-width="1.9" />
<path d="M87.6,258.8 L87.2,270.7" fill="none" stroke="#1c1c1c" stroke-width="1.6" />
<path d="M102.4,268.6 L102.0,279.7" fill="none" stroke="#1c1c1c" stroke-width="1.6" />
<path d="M114.1,276.3 L113.7,286.9" fill="none" stroke="#1c1c1c" stroke-width="1.6" />
<path d="M78.1,258.8 L116.1,283.2" fill="none" stroke="#1c1c1c" stroke-width="1.1" />
<path d="M116.2,279.8 L123.7,277.7 L123.7,291.6 L116.0,292.6" fill="#d7e0e2" stroke="#1c1c1c" stroke-width="1.9" />
<path d="M123.7,277.7 L131.5,275.5 L141.7,279.0 L141.7,293.4 L133.6,297.9 L123.7,291.6 Z" fill="#d7e0e2" stroke="#1c1c1c" stroke-width="1.9" />
<path d="M123.7,277.7 L134.0,280.8 L141.7,279.0" fill="none" stroke="#1c1c1c" stroke-width="1.9" />
<path d="M134.0,280.8 L133.6,297.9" fill="none" stroke="#1c1c1c" stroke-width="1.9" />
<path d="M158.2,271.0 L142.1,277.3 C138.6,279.5 137.6,286 140.3,288.9 L160.9,280.8 Z" fill="#d7e0e2" stroke="#1c1c1c" stroke-width="1.9"/>
<path d="M142.1,277.3 C145,279.5 145.4,285.5 142.6,288.0" fill="none" stroke="#1c1c1c" stroke-width="1.1"/>
<path d="M127.5,267.5 L138.0,263.5" fill="none" stroke="#1c1c1c" stroke-width="1.2" />
<path d="M130.0,270.0 L136.0,277.5" fill="none" stroke="#1c1c1c" stroke-width="1.2" />
<path d="M133.5,268.2 L139.0,276.5" fill="none" stroke="#1c1c1c" stroke-width="1.2" />
<path d="M123.4,149 L123.4,207.5 L133.6,203 L133.6,149 Z" fill="#d7e0e2" stroke="none"/>
<path d="M123.4,149.0 L123.4,207.5" fill="none" stroke="#1c1c1c" stroke-width="1.9" />
<path d="M123.4,148 L123.4,158.6 C125,160.8 132,160.8 133.6,158.6 L133.6,148" fill="#f3f5f6" stroke="#1c1c1c" stroke-width="1.9"/>
<ellipse cx="128.5" cy="147.8" rx="5.1" ry="1.9" fill="#eceff0" stroke="#1c1c1c" stroke-width="1.5"/>
<path d="M133.6,156.8 C141,156.4 150,159.5 152.2,163.8 L152.2,172.5" fill="none" stroke="#1c1c1c" stroke-width="1.5"/>
<path d="M135,164.4 C141,166 148,166 152.2,164.8" fill="none" stroke="#1c1c1c" stroke-width="1.1"/>
<path d="M97.4,248.4 L97.4,237.3 L119.0,228.3 C128.8,225.8 140.5,228.7 141.2,235.4 L141.2,274.9 L131.3,266.2 Z" fill="#d7e0e2" stroke="#1c1c1c" stroke-width="1.9"/>
<path d="M111.9,228.7 L114.9,230.2 L114.9,233.5 L111.9,232.0 Z" fill="#111" stroke="#111" stroke-width="0.6"/>
<path d="M121.2,233.6 L124.2,235.1 L124.2,238.4 L121.2,236.9 Z" fill="#111" stroke="#111" stroke-width="0.6"/>
<path d="M130.4,238.6 L133.4,240.1 L133.4,243.4 L130.4,241.9 Z" fill="#111" stroke="#111" stroke-width="0.6"/>
<path d="M101.5,238.6 L104.5,240.1 L104.5,243.4 L101.5,241.9 Z" fill="#111" stroke="#111" stroke-width="0.6"/>
<path d="M108.9,242.2 L111.9,243.8 L111.9,247.1 L108.9,245.6 Z" fill="#111" stroke="#111" stroke-width="0.6"/>
<path d="M120.6,250.2 L123.6,251.8 L123.6,255.1 L120.6,253.6 Z" fill="#111" stroke="#111" stroke-width="0.6"/>
<path d="M127.3,253.9 L130.3,255.4 L130.3,258.8 L127.3,257.3 Z" fill="#111" stroke="#111" stroke-width="0.6"/>
<path d="M134.1,257.7 L137.1,259.2 L137.1,262.6 L134.1,261.1 Z" fill="#111" stroke="#111" stroke-width="0.6"/>
<path d="M141.2,234.2 L141.2,275.5" fill="none" stroke="#1c1c1c" stroke-width="1.9" />
<path d="M251.3,171 C239,176 229.6,186 228.8,197 L228.8,247.6" fill="none" stroke="#1c1c1c" stroke-width="1.9"/>
<path d="M233.5,179 C228.6,186 227,193 226.9,201 L226.9,247" fill="none" stroke="#1c1c1c" stroke-width="1.2"/>
<path d="M146.6,216.2 L164.5,208.8 L164.5,221.1 L146.6,229.1 Z" fill="none" stroke="#1c1c1c" stroke-width="2.0" />
<path d="M146.6,216.2 L164.5,221.1" fill="none" stroke="#1c1c1c" stroke-width="1.7" />
<path d="M171.3,205.7 L194.7,196.5 L194.7,210.7 L171.3,219.9 Z" fill="none" stroke="#1c1c1c" stroke-width="2.0" />
<path d="M171.3,205.7 L194.7,210.7" fill="none" stroke="#1c1c1c" stroke-width="1.7" />
<path d="M199.6,195.3 L216.8,188.5 L216.8,200.8 L199.6,208.2 Z" fill="none" stroke="#1c1c1c" stroke-width="2.0" />
<path d="M199.6,195.3 L216.8,200.8" fill="none" stroke="#1c1c1c" stroke-width="1.7" />
<path d="M129.4,222.0 L142.3,217.4 L142.3,230.4" fill="none" stroke="#1c1c1c" stroke-width="2.0" />
<path d="M132.5,221.1 L142.3,230.4" fill="none" stroke="#1c1c1c" stroke-width="1.6" />
<path d="M222.2,184.3 L231.6,180.4 C227,186 223.6,193 222.2,200 Z" fill="none" stroke="#1c1c1c" stroke-width="1.8"/>
<path d="M204.8,214.3 L208.1,213.0 L208.1,216.9 L204.8,218.2 Z" fill="#111" stroke="#111" stroke-width="0.6"/>
<path d="M212.2,211.2 L215.5,209.9 L215.5,213.8 L212.2,215.1 Z" fill="#111" stroke="#111" stroke-width="0.6"/>
<path d="M220.2,207.9 L223.5,206.6 L223.5,210.5 L220.2,211.8 Z" fill="#111" stroke="#111" stroke-width="0.6"/>
<path d="M204.8,226.6 L208.1,225.3 L208.1,229.2 L204.8,230.5 Z" fill="#111" stroke="#111" stroke-width="0.6"/>
<path d="M212.2,223.5 L215.5,222.2 L215.5,226.1 L212.2,227.4 Z" fill="#111" stroke="#111" stroke-width="0.6"/>
<path d="M220.2,220.2 L223.5,218.9 L223.5,222.8 L220.2,224.1 Z" fill="#111" stroke="#111" stroke-width="0.6"/>
<path d="M161.7,233.4 L165.0,232.1 L165.0,236.0 L161.7,237.3 Z" fill="#111" stroke="#111" stroke-width="0.6"/>
<path d="M169.0,230.3 L172.3,229.0 L172.3,232.9 L169.0,234.2 Z" fill="#111" stroke="#111" stroke-width="0.6"/>
<path d="M176.3,227.2 L179.7,225.9 L179.7,229.8 L176.3,231.1 Z" fill="#111" stroke="#111" stroke-width="0.6"/>
<path d="M186.8,222.5 L190.2,221.2 L190.2,225.1 L186.8,226.4 Z" fill="#111" stroke="#111" stroke-width="0.6"/>
<path d="M161.7,246.1 L165.0,244.8 L165.0,248.7 L161.7,250.0 Z" fill="#111" stroke="#111" stroke-width="0.6"/>
<path d="M169.0,243.0 L172.3,241.7 L172.3,245.6 L169.0,246.9 Z" fill="#111" stroke="#111" stroke-width="0.6"/>
<path d="M176.3,239.5 L179.7,238.2 L179.7,242.1 L176.3,243.4 Z" fill="#111" stroke="#111" stroke-width="0.6"/>
<path d="M148.7,239.5 L152.0,238.2 L152.0,242.1 L148.7,243.4 Z" fill="#111" stroke="#111" stroke-width="0.6"/>
<path d="M148.7,251.8 L152.0,250.5 L152.0,254.4 L148.7,255.7 Z" fill="#111" stroke="#111" stroke-width="0.6"/>
<path d="M73.4,229.9 L123.9,207.7 L200.3,175.5 L252.6,156.1 L263.4,160.3 L261.1,169.1 L222.4,184.8 L83.9,240.4 L75.3,235.4 Z" fill="#d7e0e2" stroke="none"/>
<path d="M73.4,229.9 L123.9,207.7" fill="none" stroke="#1c1c1c" stroke-width="1.9" />
<path d="M200.3,175.5 L252.6,156.1 L263.4,160.3" fill="none" stroke="#1c1c1c" stroke-width="1.9" />
<path d="M82.6,234.2 L130.0,212.5 L200.8,184.8 L263.4,160.3" fill="none" stroke="#1c1c1c" stroke-width="1.9" />
<path d="M83.9,240.4 L130.0,221.7 L222.4,184.8 L233.8,178.4 L261.1,169.1 L263.4,160.3" fill="none" stroke="#1c1c1c" stroke-width="1.9" />
<path d="M73.4,229.9 L82.6,234.2 L83.9,240.4 L75.3,235.4 Z" fill="none" stroke="#1c1c1c" stroke-width="1.9" />
<path d="M75.3,231.5 L81.8,234.7 L82.3,237.9" fill="none" stroke="#1c1c1c" stroke-width="1.0" />
<path d="M141.7,178.6 L187.8,162.6 L200.8,172.7 L154.6,185.4 Z" fill="#d7e0e2" stroke="#1c1c1c" stroke-width="1.9" />
<path d="M154.6,185.4 L200.8,172.7 L200.8,183.8 L154.6,203.0 Z" fill="#d7e0e2" stroke="#1c1c1c" stroke-width="1.9" />
<path d="M141.7,178.6 L154.6,185.4 L154.6,203.0 L141.7,201.0 Z" fill="#d7e0e2" stroke="#1c1c1c" stroke-width="1.9" />
<path d="M157.4,187.4 L160.4,186.2 L160.4,189.6 L157.4,190.8 Z" fill="#111" stroke="#111" stroke-width="0.6"/>
<path d="M164.8,184.5 L167.8,183.4 L167.8,186.8 L164.8,187.9 Z" fill="#111" stroke="#111" stroke-width="0.6"/>
<path d="M172.2,181.7 L175.2,180.6 L175.2,183.9 L172.2,185.1 Z" fill="#111" stroke="#111" stroke-width="0.6"/>
<path d="M179.6,178.9 L182.6,177.7 L182.6,181.1 L179.6,182.2 Z" fill="#111" stroke="#111" stroke-width="0.6"/>
<path d="M187.0,176.0 L190.0,174.9 L190.0,178.3 L187.0,179.4 Z" fill="#111" stroke="#111" stroke-width="0.6"/>
<path d="M194.4,173.2 L197.4,172.0 L197.4,175.4 L194.4,176.6 Z" fill="#111" stroke="#111" stroke-width="0.6"/>
<path d="M143.4,182.9 L146.2,184.3 L146.2,187.9 L143.4,186.5 Z" fill="#111" stroke="#111" stroke-width="0.6"/>
<path d="M149.5,186.6 L152.3,188.0 L152.3,191.6 L149.5,190.2 Z" fill="#111" stroke="#111" stroke-width="0.6"/>
<path d="M232.0,209.1 L237.4,206.7 L246.0,208.2 L241.0,211.2 Z" fill="#d7e0e2" stroke="#1c1c1c" stroke-width="1.9" />
<path d="M232.0,209.1 L232.0,223.4 L241.0,225.7 L241.0,211.2" fill="#d7e0e2" stroke="#1c1c1c" stroke-width="1.9" />
<path d="M246.0,208.2 L243.1,224.3 L241.0,225.7" fill="none" stroke="#1c1c1c" stroke-width="1.9" />
<path d="M233.8,224.3 L233.8,240.4 C235.6,245.8 241.9,245.8 242.8,240.4 L242.8,224.7" fill="#d7e0e2" stroke="#1c1c1c" stroke-width="1.9"/>
<path d="M227.5,229.7 L233.8,232.4" fill="none" stroke="#1c1c1c" stroke-width="1.9" />
<path d="M227.5,235.1 L233.8,237.8" fill="none" stroke="#1c1c1c" stroke-width="1.9" />
<path d="M163.4,52.2 L163.4,81.3" fill="none" stroke="#1c1c1c" stroke-width="2.2" />
<path d="M160.4,63.5 L166.5,63.5" fill="none" stroke="#1c1c1c" stroke-width="2.6" />
<path d="M160.0,81.3 L160.0,168.8" fill="none" stroke="#1c1c1c" stroke-width="1.9" />
<path d="M166.4,81.8 L166.4,166.5" fill="none" stroke="#1c1c1c" stroke-width="1.9" />
<path d="M155.0,77.0 L155.0,80.5 L171.0,83.2" fill="none" stroke="#1c1c1c" stroke-width="1.4" />
<path d="M160.0,81.3 L170.5,81.8" fill="none" stroke="#1c1c1c" stroke-width="1.4" />
<path d="M142.4,117.9 L186.0,104.6" fill="none" stroke="#2b2b2b" stroke-width="3.0" />
<path d="M162.0,92.3 L164.3,92.3 L164.3,95.3 L162.0,95.3 Z" fill="#111" stroke="#111" stroke-width="0.6"/>
<path d="M162.0,125.5 L164.3,125.5 L164.3,128.5 L162.0,128.5 Z" fill="#111" stroke="#111" stroke-width="0.6"/>
<path d="M162.0,160.5 L164.3,160.5 L164.3,163.5 L162.0,163.5 Z" fill="#111" stroke="#111" stroke-width="0.6"/>
</g>
</svg>
<div class="l" style="left:176px;top:748px;letter-spacing:0.42px;">Vessel constrained by her draft—underway –</div>
<div class="l" style="left:257px;top:779px;letter-spacing:0.31px;">50 meters or greater in length.</div>
</body></html>
